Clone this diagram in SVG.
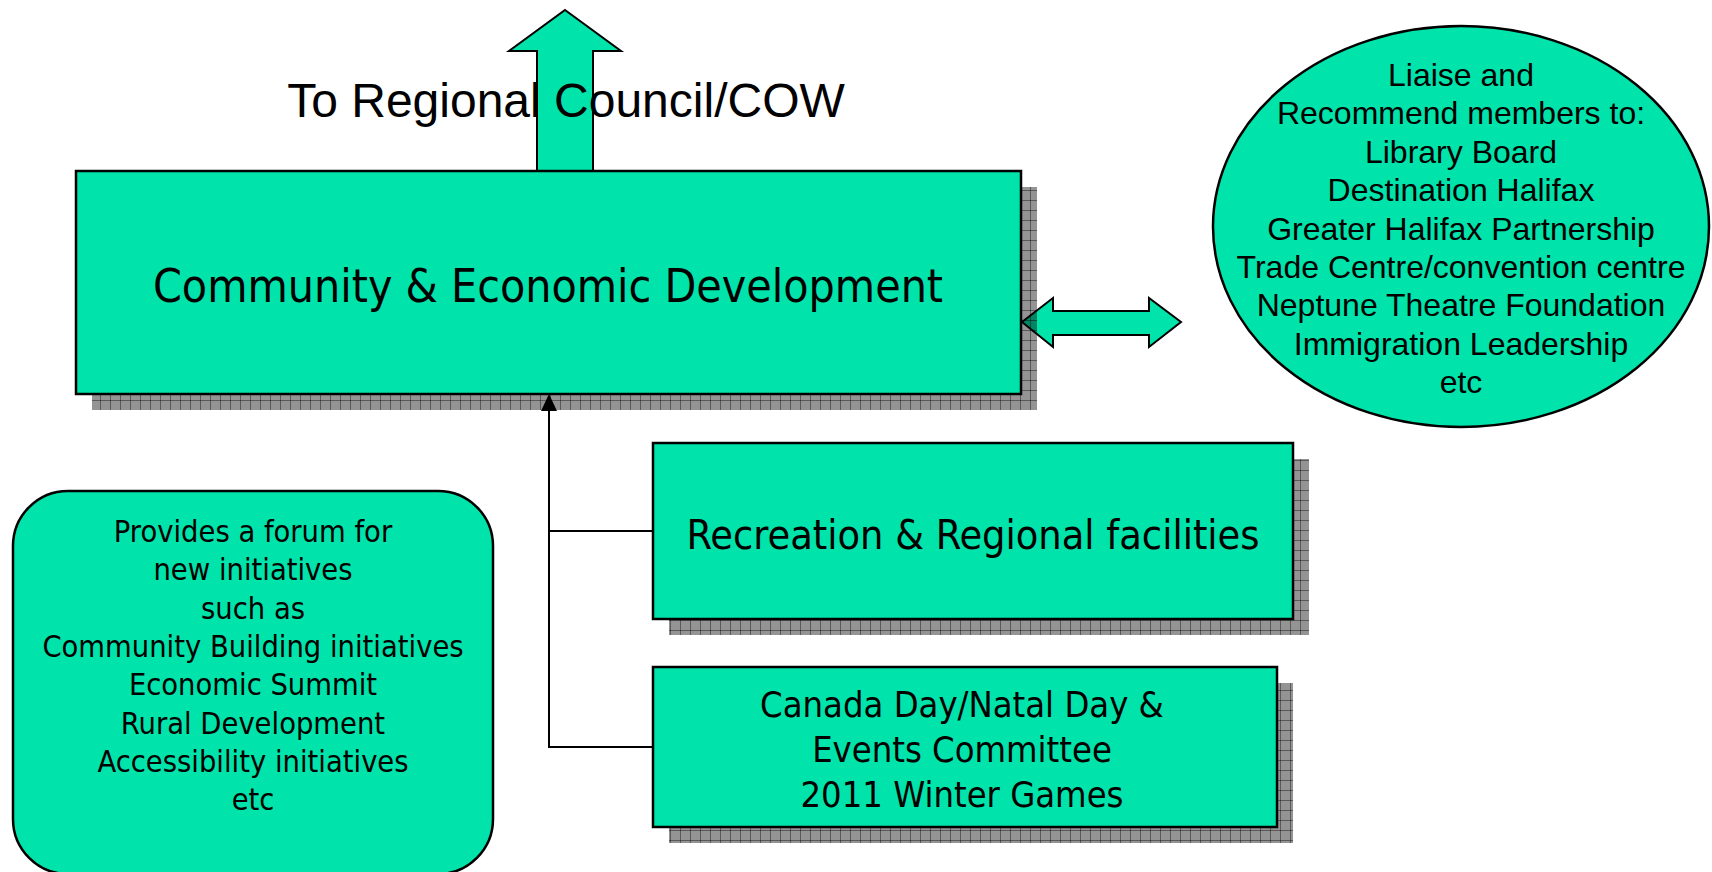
<svg xmlns="http://www.w3.org/2000/svg" width="1712" height="872" viewBox="0 0 1712 872">
<style>
.box{fill:#00E3AA;stroke:#000;stroke-width:2.5}
.shadow{fill:url(#grid)}
.blk{fill:#00E3AA;stroke:#000;stroke-width:2}
.line{fill:none;stroke:#000;stroke-width:2}
.tah{font-family:"DejaVu Sans Condensed","DejaVu Sans",sans-serif;font-stretch:condensed;fill:#000;text-anchor:middle}
.ari{font-family:"Liberation Sans",Arial,sans-serif;fill:#000;text-anchor:middle}
</style>
<defs>
<pattern id="grid" patternUnits="userSpaceOnUse" width="10" height="10">
<rect width="10" height="10" fill="#000" fill-opacity="0.42"/>
<rect x="0" y="0" width="10" height="1" fill="#000" fill-opacity="0.4"/>
<rect x="0" y="0" width="1" height="10" fill="#000" fill-opacity="0.4"/>
</pattern>
</defs>
<g id="connectors">
<polygon class="blk" points="565,10 621,51 593,51 593,171 537,171 537,51 509,51"/>
<polygon class="blk" points="1022,322 1053,298 1053,311 1149,311 1149,298 1181,322 1149,347 1149,335 1053,335 1053,347"/>
<polyline class="line" points="653,531 549,531"/>
<polyline class="line" points="653,747 549,747 549,408"/>
<polygon points="549,394 541,411 557,411" fill="#000"/>
</g>
<g id="label-council">
<text class="ari" x="566" y="117" font-size="48">To Regional Council/COW</text>
</g>
<g id="node-main">
<rect class="shadow" x="92" y="187" width="945" height="223"/>
<rect class="box" x="76" y="171" width="945" height="223"/>
<text class="tah" x="548" y="302" font-size="46">Community &amp; Economic Development</text>
</g>
<g id="node-recreation">
<rect class="shadow" x="669" y="459" width="640" height="176"/>
<rect class="box" x="653" y="443" width="640" height="176"/>
<text class="tah" x="973" y="549" font-size="41">Recreation &amp; Regional facilities</text>
</g>
<g id="node-events">
<rect class="shadow" x="669" y="683" width="624" height="160"/>
<rect class="box" x="653" y="667" width="624" height="160"/>
<text class="tah" font-size="36"><tspan x="962" y="717">Canada Day/Natal Day &amp;</tspan><tspan x="962" y="762">Events Committee</tspan><tspan x="962" y="807">2011 Winter Games</tspan></text>
</g>
<g id="node-liaise">
<ellipse class="box" cx="1461" cy="226.5" rx="248" ry="200.5"/>
<text class="ari" font-size="32"><tspan x="1461" y="86">Liaise and</tspan><tspan x="1461" y="124.4">Recommend members to:</tspan><tspan x="1461" y="162.8">Library Board</tspan><tspan x="1461" y="201.2">Destination Halifax</tspan><tspan x="1461" y="239.6">Greater Halifax Partnership</tspan><tspan x="1461" y="278">Trade Centre/convention centre</tspan><tspan x="1461" y="316.4">Neptune Theatre Foundation</tspan><tspan x="1461" y="354.8">Immigration Leadership</tspan><tspan x="1461" y="393.2">etc</tspan></text>
</g>
<g id="node-forum">
<rect class="box" x="13" y="491" width="480" height="383" rx="55" ry="55"/>
<text class="tah" font-size="30.5"><tspan x="253" y="542">Provides a forum for</tspan><tspan x="253" y="580.3">new initiatives</tspan><tspan x="253" y="618.6">such as</tspan><tspan x="253" y="656.9">Community Building initiatives</tspan><tspan x="253" y="695.2">Economic Summit</tspan><tspan x="253" y="733.5">Rural Development</tspan><tspan x="253" y="771.8">Accessibility initiatives</tspan><tspan x="253" y="810.1">etc</tspan></text>
</g>
</svg>
